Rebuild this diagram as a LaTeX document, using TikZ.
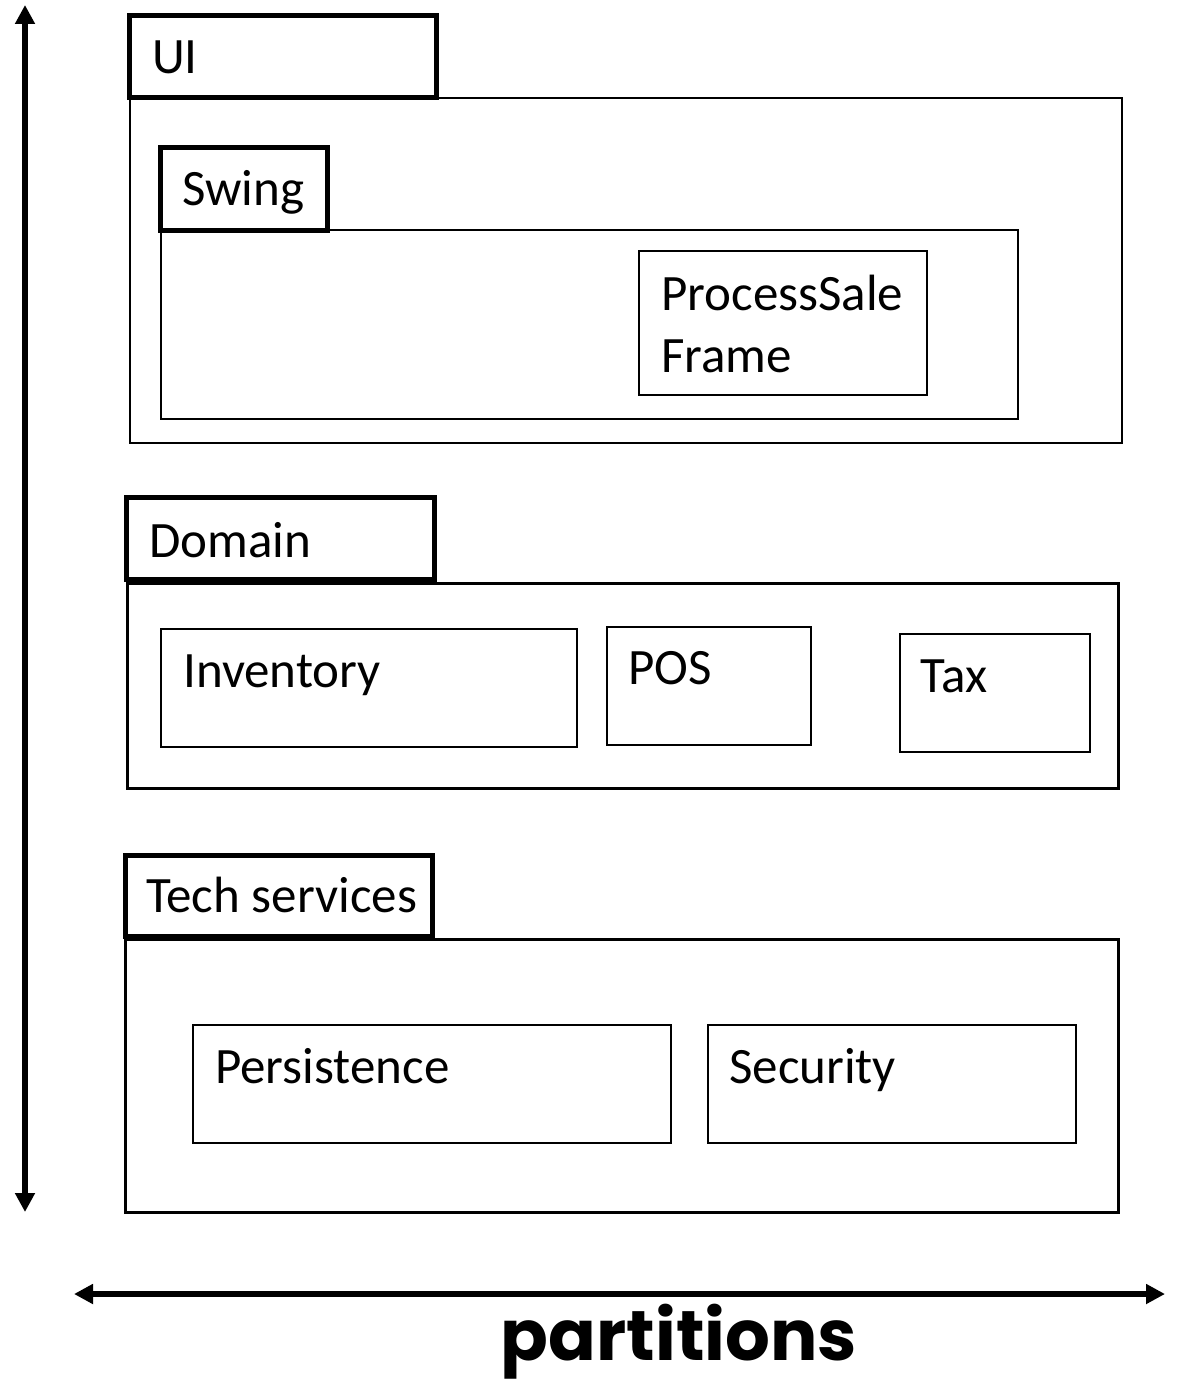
\documentclass[tikz,border=0pt]{standalone}
\usepackage{fontspec}
\setmainfont{Carlito}
\newfontfamily\handfont{Poppins}
\usetikzlibrary{arrows.meta,fit}

\begin{document}
\begin{tikzpicture}[x=1pt,y=-1pt,
  frame/.style={draw, inner sep=0pt, line width=#1},
  frame/.default=2pt,
  label/.style={anchor=base west, inner sep=0pt, font=\fontsize{51}{62}\selectfont},
  bigarrow/.style={line width=6pt, {Triangle[length=19pt,width=19pt]}-{Triangle[length=19pt,width=19pt]}}]
\useasboundingbox (0,0) rectangle (1176,1386);

% UI layer
\node[frame=2pt, fit={(130,98) (1122,443)}] (uibox) {};
\node[frame=5.5pt, fit={(129.5,15.5) (436.5,97.5)}] (uitab) {};
\node[label] (uitxt) at (152,74) {UI};

\node[frame=2pt, fit={(161,230) (1018,419)}] (swingbox) {};
\node[frame=5.5pt, fit={(160.5,147.5) (327.5,230.5)}] (swingtab) {};
\node[label] (swingtxt) at (182,205) {Swing};

\node[frame=2pt, fit={(639,251) (927,395)}] (psf) {};
\node[label, align=left] (psftxt) at (661,372) {ProcessSale\\Frame};

% Domain layer
\node[frame=3pt, fit={(127,583) (1118,788)}] (dombox) {};
\node[frame=5.5pt, fit={(126.5,497.5) (434.5,579.5)}] (domtab) {};
\node[label] (domtxt) at (149,557) {Domain};

\node[frame=2pt, fit={(161,629) (577,747)}] (inv) {};
\node[label] (invtxt) at (183,687) {Inventory};
\node[frame=2pt, fit={(607,627) (811,745)}] (pos) {};
\node[label] (postxt) at (628,684) {POS};
\node[frame=2pt, fit={(900,634) (1090,752)}] (tax) {};
\node[label] (taxtxt) at (920,692) {Tax};

% Technical services layer
\node[frame=3pt, fit={(125,939) (1118,1212)}] (techbox) {};
\node[frame=5.5pt, fit={(125.5,855.5) (432.5,936.5)}] (techtab) {};
\node[label] (techtxt) at (146,912) {Tech services};

\node[frame=2pt, fit={(193,1025) (671,1143)}] (pers) {};
\node[label] (perstxt) at (215,1083) {Persistence};
\node[frame=2pt, fit={(708,1025) (1076,1143)}] (sec) {};
\node[label] (sectxt) at (729,1083) {Security};

% axes
\coordinate (vtop) at (25,5);
\coordinate (vbot) at (25,1212);
\coordinate (hleft) at (74,1294);
\coordinate (hright) at (1165,1294);
\draw[bigarrow] (vtop) -- (vbot);
\draw[bigarrow] (hleft) -- (hright);

\node[anchor=base, inner sep=0pt] (parts) at (679,1360)
  {\resizebox{356pt}{!}{\handfont\bfseries partitions}};
\end{tikzpicture}
\end{document}
